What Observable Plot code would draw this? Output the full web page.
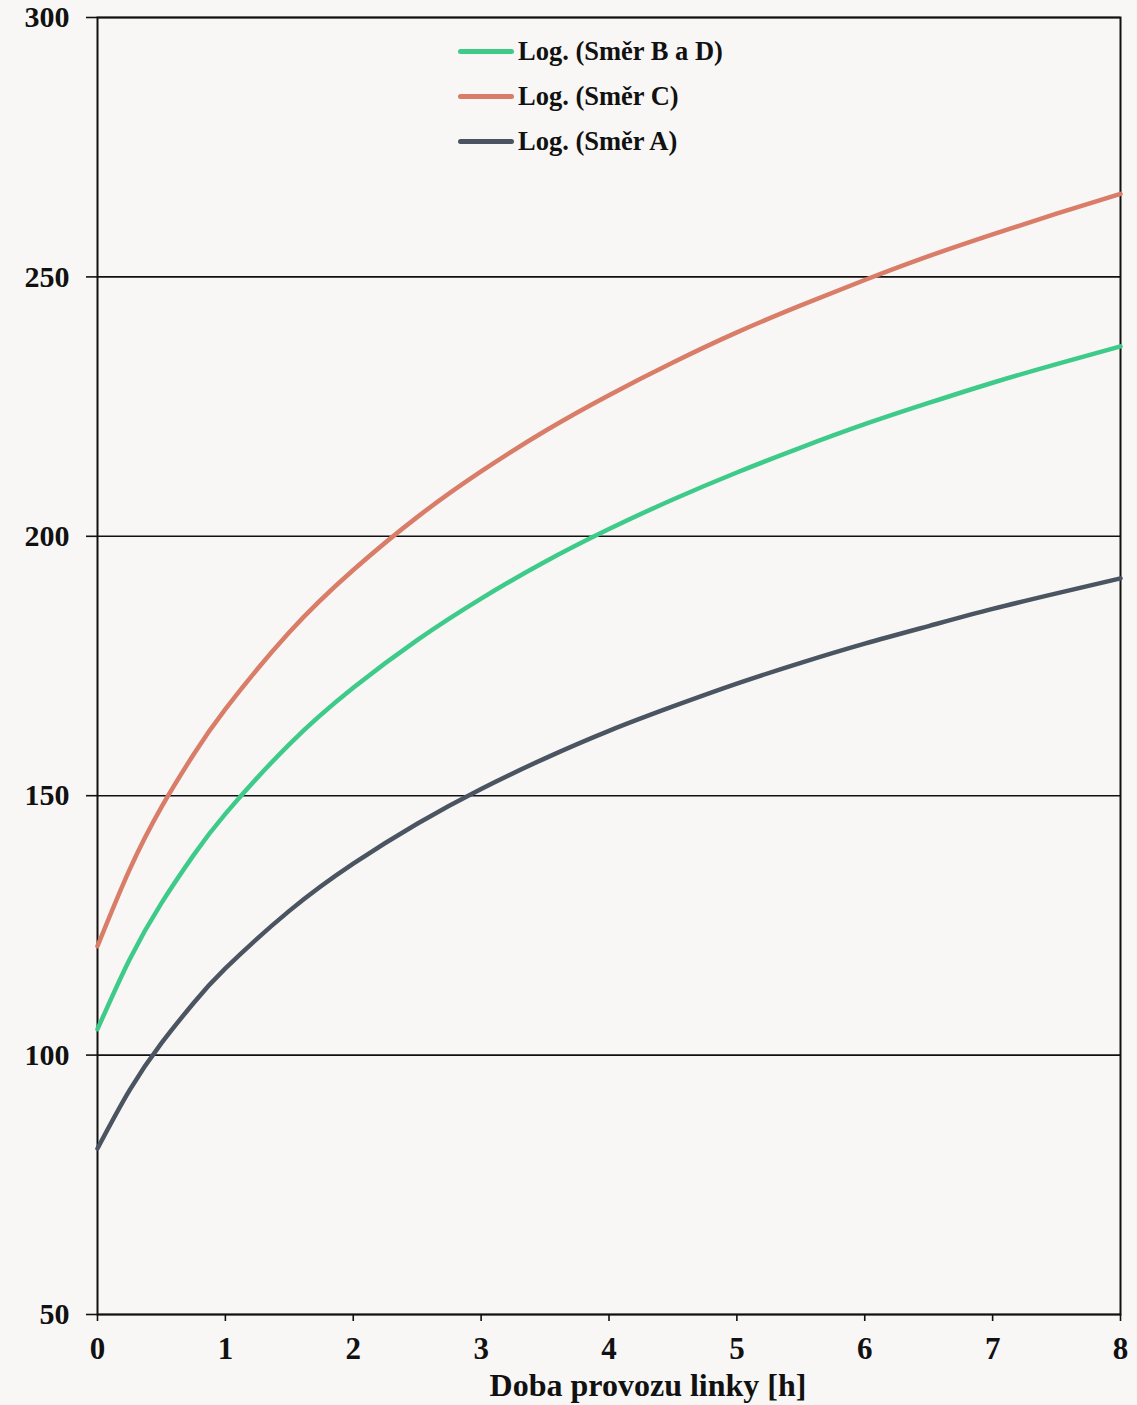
<!DOCTYPE html>
<html>
<head>
<meta charset="utf-8">
<script src="https://cdn.jsdelivr.net/npm/d3@7"></script>
<script src="https://cdn.jsdelivr.net/npm/@observablehq/plot@0.6"></script>
<style>
  html, body { margin: 0; padding: 0; background: #f8f7f5; }
  #wrap { position: relative; width: 1137px; height: 1405px; }
  #legend { position: absolute; left: 458px; top: 29px; font-family: "Liberation Serif", "Times New Roman", serif; font-weight: bold; font-size: 26.5px; color: #111; }
  #legend .row { display: flex; align-items: center; height: 45px; }
  #legend .sw { width: 56px; height: 5px; border-radius: 3px; margin-right: 4px; }
  #xlabel { position: absolute; left: 648px; top: 1369px; transform: translateX(-50%); white-space: nowrap; font-family: "Liberation Serif", "Times New Roman", serif; font-weight: bold; font-size: 32px; line-height: 32px; color: #111; }
</style>
</head>
<body>
<div id="wrap">
  <div id="chart"></div>
  <div id="legend"></div>
  <div id="xlabel"></div>
</div>
<script>
// Hours of line operation (x) and read-off trend values (y)
const hours  = [0, 0.25, 0.5, 0.75, 1, 1.5, 2, 2.5, 3, 3.5, 4, 4.5, 5, 5.5, 6, 6.5, 7, 7.5, 8];
const smerC  = [121, 135.7, 147.8, 157.9, 166.7, 181.5, 193.5, 203.7, 212.5, 220.3, 227.2, 233.5, 239.3, 244.5, 249.4, 254.0, 258.2, 262.2, 266];
const smerBD = [105, 118.4, 129.3, 138.5, 146.5, 159.9, 170.8, 180.0, 188.0, 195.1, 201.4, 207.1, 212.3, 217.1, 221.6, 225.7, 229.6, 233.2, 236.6];
const smerA  = [82, 93.2, 102.3, 110.0, 116.7, 127.8, 136.9, 144.6, 151.3, 157.2, 162.5, 167.2, 171.6, 175.6, 179.3, 182.7, 186.0, 189.0, 191.9];
const seriesNames = ["Log. (Směr B a D)", "Log. (Směr C)", "Log. (Směr A)"];
const seriesColors = ["#3ecb8a", "#d97c68", "#4b5561"];
const xTicks = [0, 1, 2, 3, 4, 5, 6, 7, 8];
const yTicks = [50, 100, 150, 200, 250, 300];
const xLabel = "Doba provozu linky [h]";

const seriesValues = [smerBD, smerC, smerA];
const rows = [];
seriesNames.forEach((name, i) => {
  hours.forEach((h, j) => rows.push({series: name, x: h, y: seriesValues[i][j]}));
});

const chart = Plot.plot({
  width: 1137,
  height: 1405,
  marginTop: 17,
  marginLeft: 97,
  marginRight: 17,
  marginBottom: 91,
  style: {
    fontFamily: "'Liberation Serif', 'Times New Roman', serif",
    fontWeight: "bold",
    fontSize: "30px",
    color: "#111",
    background: "transparent"
  },
  x: {domain: [0, 8]},
  y: {domain: [50, 300]},
  color: {domain: seriesNames, range: seriesColors},
  marks: [
    Plot.gridY(yTicks, {stroke: "#111", strokeOpacity: 1, strokeWidth: 1.6}),
    Plot.frame({stroke: "#111", strokeWidth: 2}),
    Plot.axisY(yTicks, {tickSize: 11, tickPadding: 17, strokeWidth: 1.6, label: null, fontSize: 30, tickFormat: d3.format("d")}),
    Plot.axisX(xTicks, {tickSize: 7, tickPadding: 15, strokeWidth: 1.6, label: null, fontSize: 31, tickFormat: d3.format("d")}),
    Plot.line(rows, {x: "x", y: "y", z: "series", stroke: "series", strokeWidth: 4.5, curve: "natural"})
  ]
});
document.getElementById("chart").appendChild(chart);
document.getElementById("xlabel").textContent = xLabel;

const legend = document.getElementById("legend");
seriesNames.forEach((name, i) => {
  const row = document.createElement("div");
  row.className = "row";
  const sw = document.createElement("div");
  sw.className = "sw";
  sw.style.background = seriesColors[i];
  const t = document.createElement("span");
  t.textContent = name;
  row.appendChild(sw);
  row.appendChild(t);
  legend.appendChild(row);
});
</script>
</body>
</html>
